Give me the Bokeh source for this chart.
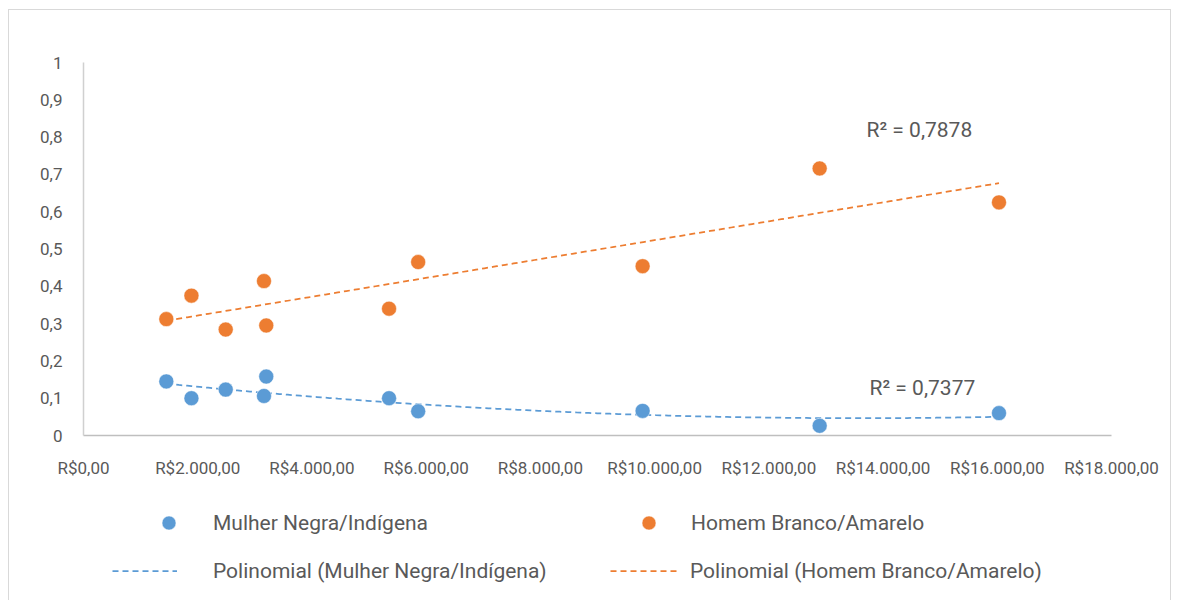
import numpy as np
from bokeh.plotting import figure
from bokeh.layouts import column
from bokeh.models import (FixedTicker, Legend, LegendItem, Label, Range1d, ColumnDataSource)
from bokeh.embed import file_html
from bokeh.resources import INLINE

# Renda (R$) e proporção por grupo
renda = [1450, 1890, 2490, 3160, 3200, 5350, 5860, 9790, 12890, 16030]
mulher_negra_indigena = [0.145, 0.100, 0.123, 0.106, 0.158, 0.100, 0.065, 0.066, 0.026, 0.060]
homem_branco_amarelo = [0.312, 0.375, 0.284, 0.414, 0.295, 0.340, 0.465, 0.454, 0.716, 0.625]

serie_mulher = "Mulher Negra/Indígena"
serie_homem = "Homem Branco/Amarelo"
r2_mulher = "R² = 0,7377"
r2_homem = "R² = 0,7878"

x_ticks = [0, 2000, 4000, 6000, 8000, 10000, 12000, 14000, 16000, 18000]
x_tick_labels = ["R$0,00", "R$2.000,00", "R$4.000,00", "R$6.000,00", "R$8.000,00",
                 "R$10.000,00", "R$12.000,00", "R$14.000,00", "R$16.000,00", "R$18.000,00"]
y_ticks = [0, 0.1, 0.2, 0.3, 0.4, 0.5, 0.6, 0.7, 0.8, 0.9, 1]
y_tick_labels = ["0", "0,1", "0,2", "0,3", "0,4", "0,5", "0,6", "0,7", "0,8", "0,9", "1"]

AZUL = "#5B9BD5"
LARANJA = "#ED7D31"
TEXTO = "#595959"
MOLDURA = "#d9d9d9"
FONTE = "Roboto"


def tendencia(x, y, grau=2, n=200):
    coef = np.polyfit(x, y, grau)
    xs = np.linspace(min(x), max(x), n)
    return xs, np.polyval(coef, xs)


# ---- gráfico de dispersão ----
p = figure(width=1179, height=480, x_range=Range1d(0, 18000), y_range=Range1d(0, 1),
           output_backend="svg", toolbar_location=None,
           min_border_left=83, min_border_right=68, min_border_top=62, min_border_bottom=45)
p.grid.visible = False
p.outline_line_color = None
p.background_fill_color = "white"
p.border_fill_alpha = 0

for ax in (p.xaxis[0], p.yaxis[0]):
    ax.axis_line_color = "#bfbfbf"
    ax.axis_line_width = 1.5
    ax.major_tick_line_color = None
    ax.minor_tick_line_color = None
    ax.major_tick_in = 0
    ax.major_tick_out = 0
    ax.major_label_text_font = FONTE
    ax.major_label_text_font_size = "17px"
    ax.major_label_text_color = TEXTO

p.xaxis.ticker = FixedTicker(ticks=x_ticks)
p.xaxis.major_label_overrides = dict(zip(x_ticks, x_tick_labels))
p.xaxis.major_label_standoff = 22
p.yaxis.ticker = FixedTicker(ticks=y_ticks)
p.yaxis.major_label_overrides = dict(zip(y_ticks, y_tick_labels))
p.yaxis.major_label_standoff = 21
p.yaxis.axis_line_color = "#d0d0d0"

# Linhas de tendência polinomiais (ordem 2)
xm, ym = tendencia(renda, mulher_negra_indigena)
xh, yh = tendencia(renda, homem_branco_amarelo)
estilo_m = dict(line_color=AZUL, line_width=1.75, line_dash="6 4")
estilo_h = dict(line_color=LARANJA, line_width=1.75, line_dash="6 4")
p.line(xm, ym, **estilo_m)
p.line(xh, yh, **estilo_h)

src = ColumnDataSource(dict(renda=renda, m=mulher_negra_indigena, h=homem_branco_amarelo))
ponto_m = dict(size=15, fill_color=AZUL, line_color="white", line_width=0.5)
ponto_h = dict(size=15, fill_color=LARANJA, line_color="white", line_width=0.5)
p.scatter("renda", "m", source=src, **ponto_m)
p.scatter("renda", "h", source=src, **ponto_h)

for txt, xv, yv in ((r2_homem, 13710, 0.819), (r2_mulher, 13763, 0.127)):
    p.add_layout(Label(x=xv, y=yv, text=txt, text_font=FONTE, text_font_size="21px",
                       text_color=TEXTO, text_baseline="middle", text_align="left"))

# ---- faixa da legenda (quadro alinhado ao do gráfico acima) ----
leg = figure(width=1179, height=120, x_range=Range1d(0, 1), y_range=Range1d(0, 1),
             output_backend="svg", toolbar_location=None,
             x_axis_location=None, y_axis_location=None,
             min_border_left=0, min_border_right=0, min_border_top=0, min_border_bottom=0)
leg.grid.visible = False
leg.outline_line_color = None
leg.background_fill_alpha = 0
leg.border_fill_alpha = 0

# renderizadores só de amostra: um ponto indefinido, nada aparece no quadro
amostra = ColumnDataSource(dict(x=[float("nan")], y=[float("nan")]))
amostra_pm = leg.scatter("x", "y", source=amostra, **ponto_m)
amostra_ph = leg.scatter("x", "y", source=amostra, **ponto_h)
amostra_lm = leg.line("x", "y", source=amostra, **estilo_m)
amostra_lh = leg.line("x", "y", source=amostra, **estilo_h)


def item_legenda(rotulo, renderer, vx, vy, gw, gh, standoff):
    lg = Legend(items=[LegendItem(label=rotulo, renderers=[renderer])],
                location=(vx, vy), orientation="horizontal",
                glyph_width=gw, glyph_height=gh, label_height=gh, label_standoff=standoff,
                padding=0, margin=0, spacing=0,
                label_text_font=FONTE, label_text_font_size="21px",
                label_text_color=TEXTO, border_line_color=None, background_fill_alpha=0)
    leg.add_layout(lg, "center")


item_legenda(serie_mulher, amostra_pm, 68, 60, 35, 35, 27)
item_legenda(serie_homem, amostra_ph, 548, 60, 35, 35, 25)
item_legenda("Polinomial (" + serie_mulher + ")", amostra_lm, 29, 17, 65, 25, 36)
item_legenda("Polinomial (" + serie_homem + ")", amostra_lh, 527, 17, 67, 25, 13)

# Moldura cinza clara da área do gráfico
linha = f"linear-gradient({MOLDURA},{MOLDURA})"
layout = column(p, leg, spacing=0, styles={
    "background": (f"{linha} 8px 9px / 1px 100% no-repeat, "
                   f"{linha} 8px 9px / 1163px 1px no-repeat, "
                   f"{linha} 1170px 9px / 1px 100% no-repeat, white"),
})

open("out.html", "w").write(file_html(layout, INLINE))
